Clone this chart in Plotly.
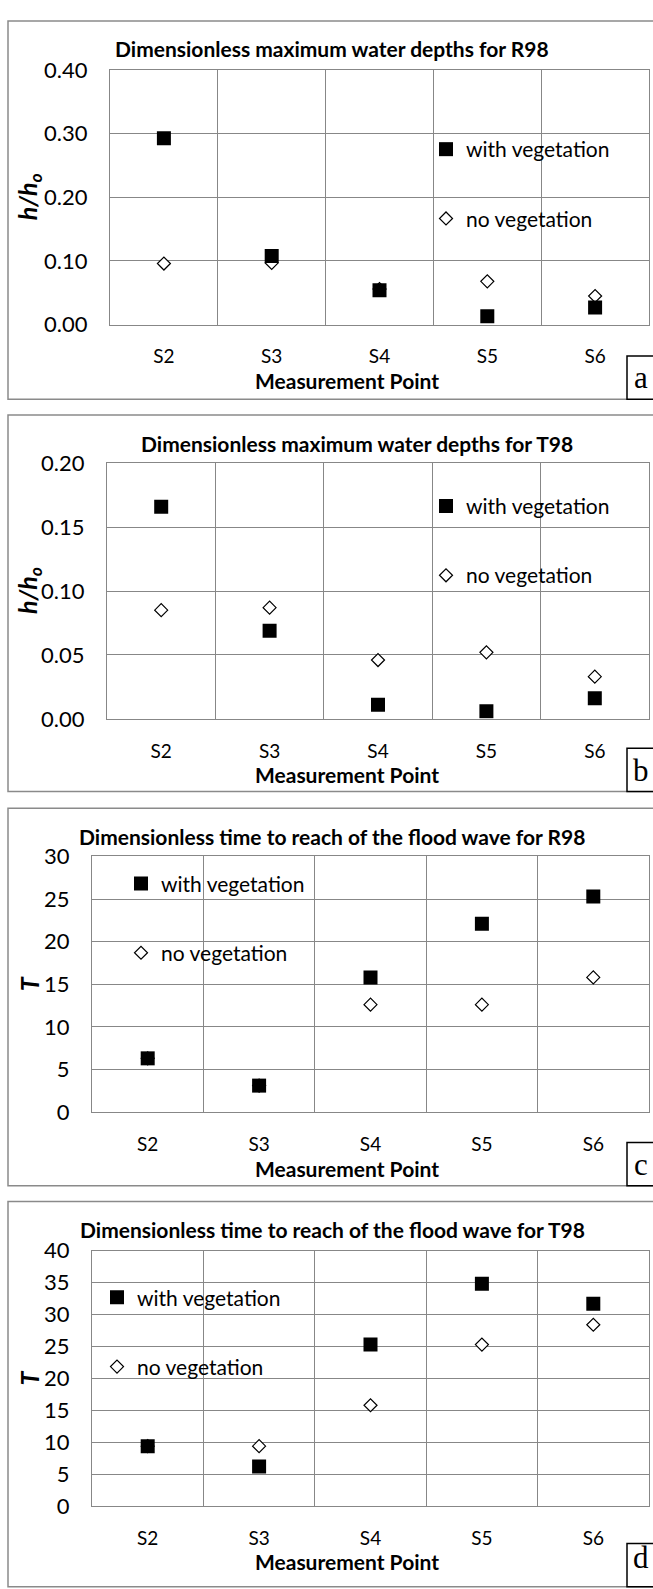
import plotly.graph_objects as go

# Measurement points along the channel
points = ["S2", "S3", "S4", "S5", "S6"]

# (a) dimensionless maximum water depth h/h0, R98
depth_r98_veg = [0.293, 0.108, 0.054, 0.013, 0.027]
depth_r98_noveg = [0.096, 0.097, 0.056, 0.068, 0.045]

# (b) dimensionless maximum water depth h/h0, T98
depth_t98_veg = [0.166, 0.069, 0.011, 0.006, 0.016]
depth_t98_noveg = [0.085, 0.087, 0.046, 0.052, 0.033]

# (c) dimensionless arrival time T, R98
time_r98_veg = [6.3, 3.1, 15.8, 22.1, 25.3]
time_r98_noveg = [6.3, 3.1, 12.6, 12.6, 15.8]

# (d) dimensionless arrival time T, T98
time_t98_veg = [9.4, 6.2, 25.3, 34.8, 31.7]
time_t98_noveg = [9.4, 9.4, 15.8, 25.3, 28.4]

titles = [
    "Dimensionless maximum water depths for R98",
    "Dimensionless maximum water depths for T98",
    "Dimensionless time to reach of the flood wave for R98",
    "Dimensionless time to reach of the flood wave for T98",
]
panel_letters = ["a", "b", "c", "d"]
y_titles = ["<b><i>h/h<sub>o</sub></i></b>", "<b><i>h/h<sub>o</sub></i></b>",
            "<b><i>T</i></b>", "<b><i>T</i></b>"]

W, H = 653, 1589
FONT = "Lato"
GRID = "#878787"

# pixel layout of each panel: plot box, frame, title centre, legend anchor
panels = [
    dict(plot=(110, 649, 57, 316), frame=(7, 392), title=(332, 35),
         yrange=[0, 0.40], dtick=0.1, fmt=".2f", legend=(426, 117),
         veg=depth_r98_veg, noveg=depth_r98_noveg, letter_y=370),
    dict(plot=(107, 649, 457, 717), frame=(408, 791), title=(357, 437),
         yrange=[0, 0.20], dtick=0.05, fmt=".2f", legend=(426, 480),
         veg=depth_t98_veg, noveg=depth_t98_noveg, letter_y=770),
    dict(plot=(92, 649, 857, 1117), frame=(808, 1192), title=(332, 837),
         yrange=[0, 30], dtick=5, fmt="d", legend=(121, 864),
         veg=time_r98_veg, noveg=time_r98_noveg, letter_y=1170),
    dict(plot=(92, 649, 1258, 1518), frame=(1208, 1600), title=(332, 1237),
         yrange=[0, 40], dtick=5, fmt="d", legend=(97, 1285),
         veg=time_t98_veg, noveg=time_t98_noveg, letter_y=1570),
]


def px(x):
    return x / W


def py(y):
    return 1 - y / H


fig = go.Figure()
shapes, annotations = [], []

for i, p in enumerate(panels):
    n = "" if i == 0 else str(i + 1)
    lg = "legend" if i == 0 else f"legend{i + 1}"
    x0, x1, y0, y1 = p["plot"]

    fig.add_trace(go.Scatter(
        x=points, y=p["noveg"], mode="markers", name="no vegetation",
        xaxis="x" + n, yaxis="y" + n, legend=lg,
        legendgroup=f"nv{i}", legendrank=2,
        marker=dict(symbol="diamond", size=10, color="white",
                    line=dict(color="black", width=1.2)),
    ))
    fig.add_trace(go.Scatter(
        x=points, y=p["veg"], mode="markers", name="with vegetation",
        xaxis="x" + n, yaxis="y" + n, legend=lg,
        legendgroup=f"v{i}", legendrank=1,
        marker=dict(symbol="square", size=14, color="black",
                    line=dict(color="black", width=0)),
    ))

    fig.update_layout({
        "xaxis" + n: dict(
            domain=[px(x0), px(x1)], anchor="y" + n, type="category",
            range=[-0.5, 4.5], tickson="boundaries", showgrid=True,
            gridcolor=GRID, gridwidth=1, showline=True, linecolor=GRID,
            linewidth=1, mirror=True, ticks="", ticklabelstandoff=15,
            zeroline=False,
            tickfont=dict(family=FONT, size=19, color="black"),
        ),
        "yaxis" + n: dict(
            domain=[py(y1), py(y0)], anchor="x" + n, range=p["yrange"],
            dtick=p["dtick"], tickformat=p["fmt"], showgrid=True,
            gridcolor=GRID, gridwidth=1, showline=True, linecolor=GRID,
            linewidth=1, mirror=True, ticks="outside", ticklen=17,
            tickcolor="rgba(0,0,0,0)", zeroline=False,
            tickfont=dict(family=FONT, size=22, color="black"),
        ),
        lg: dict(
            x=px(p["legend"][0]), y=py(p["legend"][1]),
            xanchor="left", yanchor="top", bgcolor="rgba(0,0,0,0)",
            borderwidth=0, traceorder="grouped", tracegroupgap=39,
            font=dict(family=FONT, size=21, color="black"),
            itemwidth=30,
        ),
    })

    # chart frame
    fy0, fy1 = p["frame"]
    shapes.append(dict(type="rect", xref="paper", yref="paper",
                       x0=px(8), x1=px(W + 10), y0=py(fy1), y1=py(fy0),
                       line=dict(color="#8a8a8a", width=1.5),
                       fillcolor="rgba(0,0,0,0)", layer="below"))
    # panel letter box
    shapes.append(dict(type="rect", xref="paper", yref="paper",
                       x0=px(627), x1=px(W + 10), y0=py(fy1), y1=py(fy1 - 44),
                       line=dict(color="black", width=1.5),
                       fillcolor="white", layer="above"))
    annotations.append(dict(text=panel_letters[i], xref="paper", yref="paper",
                            x=px(641), y=py(p["letter_y"]), showarrow=False,
                            xanchor="center", yanchor="middle",
                            font=dict(family="Liberation Serif", size=31,
                                      color="black")))
    # chart title
    tx, ty = p["title"]
    annotations.append(dict(text=f"<b>{titles[i]}</b>", xref="paper",
                            yref="paper", x=px(tx), y=py(ty),
                            showarrow=False, xanchor="center",
                            yanchor="middle",
                            font=dict(family=FONT, size=21, color="black")))
    # axis titles
    annotations.append(dict(text="<b>Measurement Point</b>", xref="paper",
                            yref="paper", x=px(347), y=py(fy0 + 366),
                            showarrow=False, xanchor="center",
                            yanchor="middle",
                            font=dict(family=FONT, size=21, color="black")))
    annotations.append(dict(text=y_titles[i], xref="paper", yref="paper",
                            x=px(29), y=py((y0 + y1) / 2), showarrow=False,
                            xanchor="center", yanchor="middle",
                            textangle=-90,
                            font=dict(family=FONT, size=25, color="black")))

fig.update_layout(
    width=W, height=H, margin=dict(l=0, r=0, t=0, b=0),
    paper_bgcolor="white", plot_bgcolor="white",
    showlegend=True, shapes=shapes, annotations=annotations,
)

fig.write_html("out.html")
